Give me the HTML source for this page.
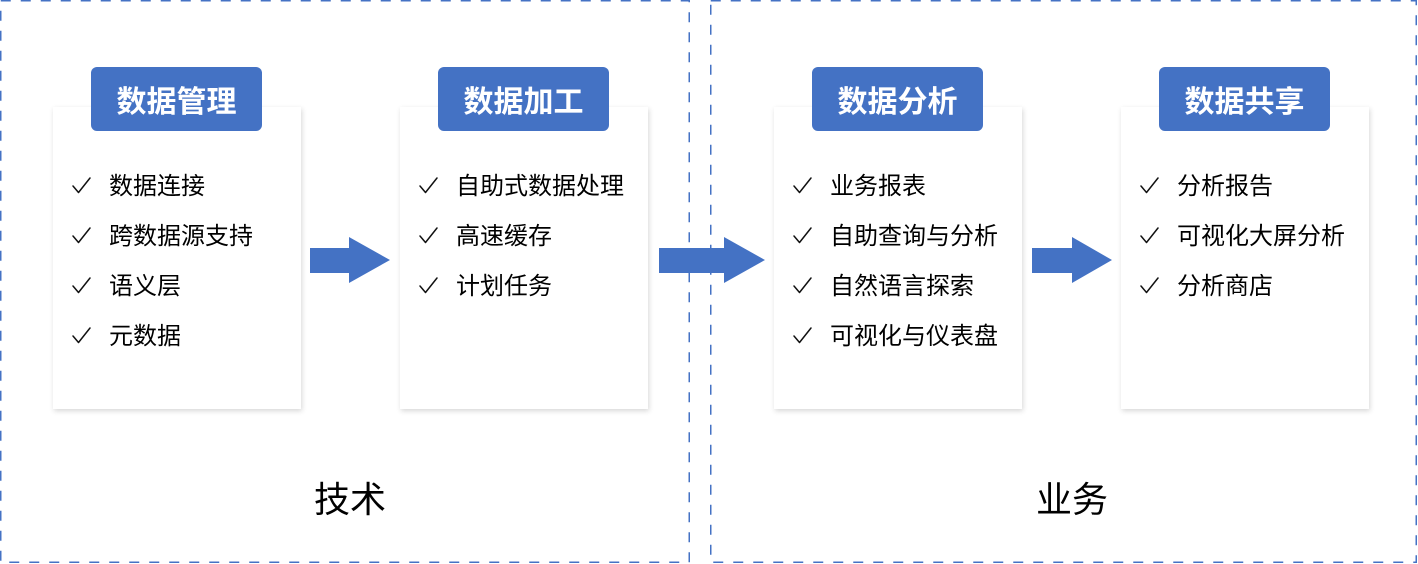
<!DOCTYPE html>
<html>
<head>
<meta charset="utf-8">
<style>
  html,body{margin:0;padding:0;background:#fff;}
  body{width:1418px;height:564px;position:relative;overflow:hidden;
       font-family:"Liberation Sans","Noto Sans CJK SC","WenQuanYi Zen Hei",sans-serif;}
  .card{position:absolute;top:107px;width:248px;height:302px;background:#fff;
        box-shadow:1px 2px 5px rgba(0,0,0,0.16);}
  .badge{position:absolute;top:67px;width:171px;height:57px;padding-top:7px;background:#4472c4;border-radius:6px;
         color:#fff;font-weight:bold;font-size:30px;line-height:57px;text-align:center;letter-spacing:0px;}
  .it{position:absolute;font-size:24px;line-height:30px;color:#000;white-space:nowrap;}
  .lbl{position:absolute;font-size:36px;line-height:44px;color:#000;}
</style>
</head>
<body>
<svg width="1418" height="564" style="position:absolute;left:0;top:0">
  <rect x="0.75" y="0.75" width="688.5" height="561.5" fill="none" stroke="#4472c4" stroke-width="1.5" stroke-dasharray="10 10"/>
  <rect x="710.75" y="0.75" width="705.5" height="561.5" fill="none" stroke="#4472c4" stroke-width="1.5" stroke-dasharray="10 10"/>
</svg>

<div class="card" style="left:53px"></div>
<div class="card" style="left:400px"></div>
<div class="card" style="left:774px"></div>
<div class="card" style="left:1121px"></div>

<div class="badge" style="left:91px">数据管理</div>
<div class="badge" style="left:438px">数据加工</div>
<div class="badge" style="left:812px">数据分析</div>
<div class="badge" style="left:1159px">数据共享</div>

<svg width="1418" height="564" style="position:absolute;left:0;top:0">
  <polygon points="310,248 349,248 349,237 390,260 349,283 349,273 310,273" fill="#4472c4"/>
  <polygon points="659,248 724,248 724,237 765,260 724,283 724,273 659,273" fill="#4472c4"/>
  <polygon points="1032,248 1072,248 1072,237 1112,260 1072,283 1072,273 1032,273" fill="#4472c4"/>
  <defs>
    <path id="ck" d="M0,8 L5.5,14.5 L17,0" fill="none" stroke="#111" stroke-width="1.5" stroke-linejoin="round" stroke-linecap="round"/>
  </defs>
  <g>
    <use href="#ck" x="73" y="178"/><use href="#ck" x="73" y="228"/><use href="#ck" x="73" y="278"/><use href="#ck" x="73" y="328"/>
    <use href="#ck" x="420" y="178"/><use href="#ck" x="420" y="228"/><use href="#ck" x="420" y="278"/>
    <use href="#ck" x="794" y="178"/><use href="#ck" x="794" y="228"/><use href="#ck" x="794" y="278"/><use href="#ck" x="794" y="328"/>
    <use href="#ck" x="1141" y="178"/><use href="#ck" x="1141" y="228"/><use href="#ck" x="1141" y="278"/>
  </g>
</svg>

<!-- card 1 -->
<div class="it" style="left:109px;top:172px">数据连接</div>
<div class="it" style="left:109px;top:222px">跨数据源支持</div>
<div class="it" style="left:109px;top:272px">语义层</div>
<div class="it" style="left:109px;top:322px">元数据</div>

<!-- card 2 -->
<div class="it" style="left:456px;top:172px">自助式数据处理</div>
<div class="it" style="left:456px;top:222px">高速缓存</div>
<div class="it" style="left:456px;top:272px">计划任务</div>

<!-- card 3 -->
<div class="it" style="left:830px;top:172px">业务报表</div>
<div class="it" style="left:830px;top:222px">自助查询与分析</div>
<div class="it" style="left:830px;top:272px">自然语言探索</div>
<div class="it" style="left:830px;top:322px">可视化与仪表盘</div>

<!-- card 4 -->
<div class="it" style="left:1177px;top:172px">分析报告</div>
<div class="it" style="left:1177px;top:222px">可视化大屏分析</div>
<div class="it" style="left:1177px;top:272px">分析商店</div>

<div class="lbl" style="left:314px;top:478px">技术</div>
<div class="lbl" style="left:1036px;top:478px">业务</div>
</body>
</html>
